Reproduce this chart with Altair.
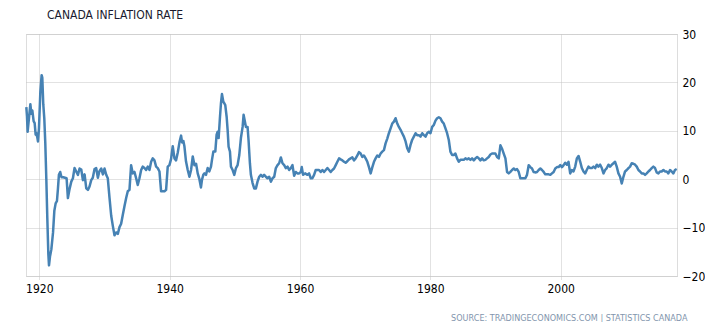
import altair as alt
import pandas as pd

title_text = "CANADA INFLATION RATE"
source_text = "SOURCE: TRADINGECONOMICS.COM | STATISTICS CANADA"
x_ticks = [1920, 1940, 1960, 1980, 2000]
y_ticks = [-20, -10, 0, 10, 20, 30]

# decimal year
years_a = [1918.00, 1918.10, 1918.20, 1918.36, 1918.62, 1918.77, 1918.92, 1919.12, 1919.28, 1919.43,
           1919.53, 1919.69, 1919.79, 1919.94, 1920.15, 1920.35, 1920.45, 1920.60, 1920.76, 1920.91,
           1921.07, 1921.22, 1921.38, 1921.48, 1921.63, 1921.84, 1922.10, 1922.30, 1922.50, 1922.70,
           1922.85, 1923.00, 1923.20, 1923.40, 1923.67, 1923.93, 1924.18, 1924.38, 1924.64, 1924.90,
           1925.15, 1925.40, 1925.66, 1925.92, 1926.17, 1926.43, 1926.68, 1926.94, 1927.20, 1927.45,
           1927.70, 1927.96, 1928.20, 1928.47, 1928.72, 1928.98, 1929.20, 1929.50, 1929.75, 1930.00,
           1930.26, 1930.50, 1930.77, 1931.02, 1931.28, 1931.53, 1931.79, 1932.04, 1932.30, 1932.55,
           1932.80, 1933.06, 1933.32, 1933.57, 1933.83, 1934.08, 1934.34, 1934.60, 1934.85, 1935.10,
           1935.36, 1935.62, 1935.87, 1936.13, 1936.38, 1936.64, 1936.90, 1937.15, 1937.40, 1937.66,
           1937.92, 1938.17, 1938.43, 1938.68, 1938.94, 1939.20, 1939.45, 1939.70, 1939.96, 1940.20,
           1940.47, 1940.73, 1940.98, 1941.24, 1941.50, 1941.75, 1941.90, 1942.10, 1942.26, 1942.50,
           1942.77, 1943.03, 1943.28, 1943.54, 1943.80, 1944.05, 1944.30, 1944.56, 1944.80]
rates_a = [14.9, 13.0, 9.8, 12.0, 15.5, 13.5, 14.2, 12.0, 11.6, 9.2,
           9.5, 8.6, 7.8, 10.5, 18.0, 21.5, 21.0, 15.5, 12.5, 7.5,
           0.0, -8.0, -15.5, -17.8, -16.0, -14.5, -11.0, -6.5, -5.0, -4.5,
           -2.0, 0.9, 1.5, 0.4, 0.4, 0.3, 0.2, -3.9, -2.0, -0.5,
           0.2, 2.3, 1.6, 0.9, 2.2, 2.0, -0.2, 1.0, -1.9, -2.2,
           -1.5, -0.2, 0.3, 2.1, 2.3, 0.3, 1.6, 2.2, 1.0, 2.2,
           0.9, 0.2, -3.9, -7.5, -9.7, -11.6, -11.0, -11.3, -9.9, -9.2,
           -7.4, -5.6, -3.9, -2.5, -2.2, 2.9, 1.2, 1.5, 0.2, -1.2,
           0.2, 1.9, 2.6, 2.3, 1.9, 2.6, 1.9, 3.6, 4.3, 3.9,
           2.6, 2.3, 1.6, -2.5, -2.5, -2.5, -2.2, 2.6, 2.9, 4.1,
           6.8, 4.3, 3.9, 5.5, 7.6, 9.0, 7.6, 7.9, 6.8, 3.7,
           1.9, 0.5, 1.9, 4.7, 2.9, 3.2, 1.2, 0.0, -1.7]

years_b = [1944.96, 1945.16, 1945.32, 1945.57, 1945.83, 1946.08, 1946.34, 1946.49, 1946.70, 1947.00,
           1947.20, 1947.36, 1947.51, 1947.72, 1947.87, 1948.02, 1948.23, 1948.38, 1948.53, 1948.74,
           1948.89, 1949.04, 1949.25, 1949.40, 1949.66, 1949.91, 1950.17, 1950.42, 1950.68, 1950.93,
           1951.19, 1951.34, 1951.54, 1951.70, 1951.95, 1952.10, 1952.31, 1952.46, 1952.72, 1952.97,
           1953.23, 1953.48, 1953.74, 1954.00, 1954.25, 1954.50, 1954.76, 1955.00, 1955.27, 1955.53,
           1955.78, 1956.04, 1956.29, 1956.55, 1956.80, 1957.06, 1957.31, 1957.57, 1957.82, 1958.08,
           1958.33, 1958.59, 1958.84, 1959.10, 1959.35, 1959.60, 1959.86, 1960.12, 1960.27, 1960.47,
           1960.78, 1961.14, 1961.39, 1961.65, 1961.90, 1962.16, 1962.41, 1962.67, 1962.92, 1963.18,
           1963.44, 1963.69, 1963.95, 1964.20, 1964.46, 1964.71, 1964.97, 1965.22, 1965.48, 1965.73,
           1966.00, 1966.24, 1966.50, 1966.75, 1967.00, 1967.26, 1967.52, 1967.77, 1968.03, 1968.28,
           1968.54, 1968.80, 1969.05, 1969.30, 1969.56, 1969.80, 1970.07, 1970.33, 1970.58, 1970.84,
           1971.10, 1971.35, 1971.60, 1971.86]
rates_b = [-0.1, 0.9, 1.2, 0.9, 2.3, 1.6, 2.6, 4.0, 5.7, 5.7,
           9.2, 9.8, 8.5, 12.9, 15.7, 17.6, 16.0, 15.7, 15.3, 12.9,
           10.2, 6.7, 5.7, 2.6, 1.9, 0.9, 2.3, 2.9, 5.0, 8.5,
           10.8, 13.3, 11.9, 10.8, 10.8, 8.1, 3.3, 0.9, -0.8, -1.9,
           -1.9, -0.5, 0.5, 0.9, 0.5, 0.9, 0.5, 0.2, 0.5, -0.5,
           0.2, 0.5, 2.3, 2.9, 3.3, 4.5, 3.3, 2.9, 2.3, 2.6,
           1.9, 2.3, 2.9, 0.7, 1.5, 1.2, 1.2, 1.5, 2.5, 0.9,
           1.2, 0.9, 1.2, 0.2, 0.2, 0.9, 1.9, 1.9, 1.9, 1.5,
           1.9, 1.5, 1.9, 2.3, 1.9, 1.5, 1.9, 2.2, 2.9, 3.6,
           4.3, 4.1, 3.9, 3.6, 3.4, 3.7, 4.1, 4.3, 4.5, 3.9,
           4.3, 4.9, 5.6, 5.3, 4.6, 4.9, 4.3, 3.6, 2.5, 1.2,
           2.5, 3.6, 4.3, 4.9]

years_c = [1972.11, 1972.37, 1972.62, 1972.88, 1973.13, 1973.39, 1973.64, 1973.90, 1974.15, 1974.41,
           1974.66, 1974.92, 1975.17, 1975.43, 1975.68, 1975.94, 1976.20, 1976.45, 1976.70, 1976.96,
           1977.20, 1977.47, 1977.73, 1977.98, 1978.24, 1978.49, 1978.75, 1979.00, 1979.26, 1979.51,
           1979.77, 1980.02, 1980.28, 1980.53, 1980.79, 1981.04, 1981.30, 1981.55, 1981.81, 1982.06,
           1982.32, 1982.57, 1982.83, 1983.08, 1983.34, 1983.60, 1983.85, 1984.10, 1984.36, 1984.62,
           1984.87, 1985.13, 1985.38, 1985.64, 1985.90, 1986.15, 1986.40, 1986.67, 1986.92, 1987.18,
           1987.43, 1987.69, 1987.94, 1988.20, 1988.45, 1988.70, 1988.96, 1989.22, 1989.47, 1989.73,
           1989.98, 1990.24, 1990.50, 1990.75, 1991.00, 1991.26, 1991.52, 1991.77, 1992.03, 1992.28,
           1992.54, 1992.80, 1993.05, 1993.30, 1993.56, 1993.81, 1994.07, 1994.32, 1994.58, 1994.83,
           1995.09, 1995.34, 1995.60, 1995.85, 1996.10, 1996.37, 1996.62, 1996.88, 1997.13, 1997.39,
           1997.64, 1997.90, 1998.15, 1998.41, 1998.66, 1998.92, 1999.17, 1999.43, 1999.68, 1999.94]
rates_c = [4.6, 5.3, 5.7, 6.0, 7.4, 8.4, 9.5, 10.5, 11.5, 11.9,
           12.6, 11.5, 10.8, 10.2, 9.5, 8.8, 7.8, 6.4, 5.7, 7.1,
           8.1, 8.8, 9.5, 9.1, 9.1, 8.8, 9.5, 9.1, 8.8, 9.5,
           9.8, 9.5, 10.8, 11.2, 12.1, 12.6, 12.8, 12.6, 11.9, 11.5,
           10.5, 9.5, 8.1, 5.7, 5.0, 5.0, 5.3, 4.3, 3.6, 4.0,
           4.0, 4.0, 4.3, 4.1, 4.3, 4.0, 4.3, 3.9, 4.3, 4.6,
           4.3, 3.9, 4.3, 3.9, 4.0, 4.3, 4.6, 5.1, 5.3, 5.3,
           5.3, 4.6, 4.3, 7.0, 6.3, 5.3, 4.3, 1.5, 1.2, 1.5,
           1.9, 2.2, 1.9, 2.1, 1.5, 0.2, 0.2, 0.2, 0.2, 0.9,
           2.9, 2.5, 2.2, 1.5, 1.4, 1.5, 1.9, 2.2, 1.9, 1.5,
           1.0, 1.0, 1.0, 0.9, 1.2, 1.5, 2.2, 2.5, 2.5, 2.9]

years_d = [2000.20, 2000.45, 2000.70, 2000.95, 2001.20, 2001.46, 2001.72, 2001.97, 2002.23, 2002.48,
           2002.74, 2003.00, 2003.25, 2003.50, 2003.76, 2004.00, 2004.27, 2004.52, 2004.78, 2005.03,
           2005.29, 2005.55, 2005.80, 2006.06, 2006.31, 2006.57, 2006.82, 2007.08, 2007.33, 2007.59,
           2007.84, 2008.10, 2008.35, 2008.60, 2008.86, 2009.12, 2009.37, 2009.63, 2009.88, 2010.14,
           2010.40, 2010.65, 2010.90, 2011.16, 2011.42, 2011.67, 2011.93, 2012.18, 2012.44, 2012.70,
           2012.95, 2013.20, 2013.46, 2013.71, 2013.97, 2014.22, 2014.48, 2014.73, 2014.99, 2015.24,
           2015.50, 2015.76, 2016.00, 2016.27, 2016.52, 2016.78, 2017.03, 2017.29, 2017.54, 2017.80]
rates_d = [2.5, 2.9, 3.4, 3.0, 3.6, 1.2, 1.9, 1.6, 2.6, 4.3,
           4.8, 3.6, 2.3, 1.6, 1.2, 1.9, 2.6, 2.3, 2.3, 2.6,
           2.3, 3.0, 2.6, 3.0, 2.3, 1.2, 1.9, 2.3, 3.0, 2.6,
           3.0, 3.3, 3.6, 2.6, 1.2, 0.5, -0.9, 0.5, 1.6, 1.9,
           2.3, 2.6, 3.3, 3.2, 3.0, 2.6, 1.9, 1.6, 1.2, 1.2,
           0.9, 1.2, 1.6, 1.9, 2.3, 2.6, 2.3, 1.4, 1.2, 1.6,
           1.6, 1.9, 1.6, 1.6, 1.2, 1.9, 1.6, 1.2, 1.9, 2.1]

df = pd.DataFrame({
    "year": years_a + years_b + years_c + years_d,
    "rate": rates_a + rates_b + rates_c + rates_d,
})

FONT = "DejaVu Sans Condensed, DejaVu Sans"
GRID = "#c4c4c4"

chart = alt.Chart(df).mark_line(
    color="#4682b4", strokeWidth=2.5, strokeJoin="round"
).encode(
    x=alt.X(
        "year:Q",
        scale=alt.Scale(domain=[1917.95, 2017.85], nice=False, zero=False),
        axis=alt.Axis(
            values=x_ticks, format="d", title=source_text,
            domain=False, ticks=True, tickSize=4, tickColor=GRID, tickDash=[1, 1],
            labelPadding=3, labelFont=FONT, labelFontSize=12, labelColor="#000000",
            grid=True, gridColor=GRID, gridDash=[1, 1], gridWidth=1,
            titleX=661, titleY=41, titleAlign="right", titleBaseline="middle",
            titleFont=FONT, titleFontSize=9, titleFontWeight="normal", titleColor="#8295ad",
        ),
    ),
    y=alt.Y(
        "rate:Q",
        scale=alt.Scale(domain=[-20, 30], nice=False, zero=False),
        axis=alt.Axis(
            orient="right", values=y_ticks, title=None,
            domain=False, ticks=False, tickSize=0, labelPadding=5,
            labelFont=FONT, labelFontSize=12, labelColor="#000000",
            grid=True, gridColor=GRID, gridDash=[1, 1], gridWidth=1,
        ),
    ),
).properties(
    width=651,
    height=242,
    autosize="none",
    padding={"left": 18, "top": 26, "right": 28, "bottom": 46},
    title=alt.TitleParams(
        text=title_text, anchor="start", frame="group", dx=21, offset=6,
        font=FONT, fontSize=12, fontWeight="normal", color="#1a1a2e",
    ),
).configure_view(stroke=None).configure(background="white")

chart.save("out.html", embed_options={"renderer": "svg", "actions": False})
